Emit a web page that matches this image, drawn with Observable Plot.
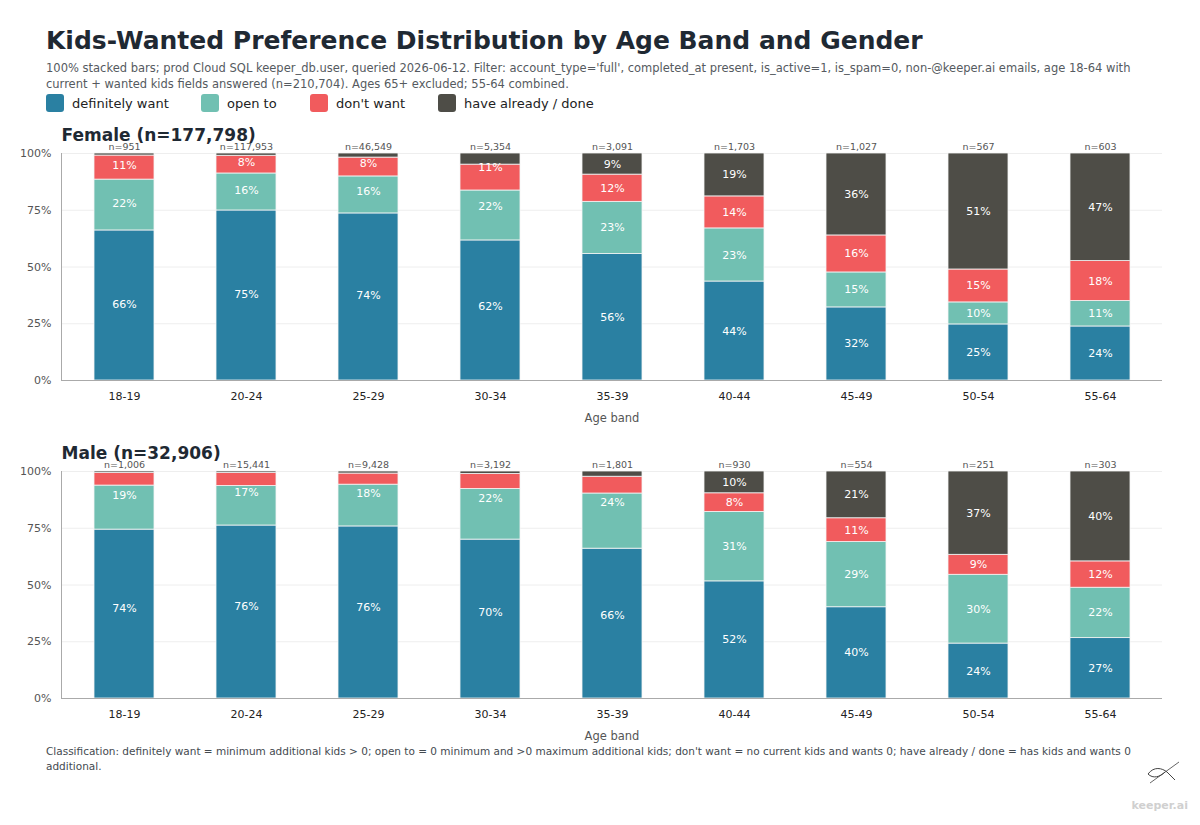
<!DOCTYPE html>
<html>
<head>
<meta charset="utf-8">
<script src="https://cdn.jsdelivr.net/npm/d3@7"></script>
<script src="https://cdn.jsdelivr.net/npm/@observablehq/plot@0.6"></script>
<style>
  html, body { margin: 0; padding: 0; background: #fff; }
  body { width: 1200px; height: 825px; position: relative; overflow: hidden; font-family: "DejaVu Sans", sans-serif; }
  #title { position: absolute; left: 46px; top: 26px; font-size: 25px; font-weight: bold; color: #1f2933; white-space: nowrap; }
  #subtitle { position: absolute; left: 46px; top: 60px; width: 1120px; font-size: 11.5px; line-height: 16px; color: #555a60; }
  #legend { position: absolute; left: 46px; top: 94px; height: 20px; font-size: 13px; color: #222; }
  .li { position: absolute; top: 0; display: flex; align-items: center; white-space: nowrap; }
  .sw { width: 18px; height: 18px; border-radius: 3px; margin-right: 8px; }
  #p1 { position: absolute; left: 0; top: 120px; }
  #p2 { position: absolute; left: 0; top: 438px; }
  #caption { position: absolute; left: 46px; top: 744px; width: 1110px; font-size: 10.5px; line-height: 15px; color: #444a50; }
  #logo { position: absolute; left: 1140px; top: 755px; }
  #brand { position: absolute; right: 12px; top: 799px; font-size: 11px; font-weight: bold; color: #d0d0d0; }
</style>
</head>
<body>
<div id="title">Kids-Wanted Preference Distribution by Age Band and Gender</div>
<div id="subtitle">100% stacked bars; prod Cloud SQL keeper_db.user, queried 2026-06-12. Filter: account_type='full', completed_at present, is_active=1, is_spam=0, non-@keeper.ai emails, age 18-64 with current + wanted kids fields answered (n=210,704). Ages 65+ excluded; 55-64 combined.</div>
<div id="legend"></div>
<div id="p1"></div>
<div id="p2"></div>
<div id="caption">Classification: definitely want = minimum additional kids &gt; 0; open to = 0 minimum and &gt;0 maximum additional kids; don't want = no current kids and wants 0; have already / done = has kids and wants 0 additional.</div>
<svg id="logo" width="50" height="40" viewBox="0 0 50 40"><path d="M10 28 L39 7" fill="none" stroke="#555" stroke-width="0.9"/><path d="M8 19 C14 11, 22 13, 27 17 L35 25 M8 19 C13 24, 20 22, 25 17" fill="none" stroke="#444" stroke-width="1"/></svg>
<div id="brand">keeper.ai</div>
<script>
const ageBands = ["18-19","20-24","25-29","30-34","35-39","40-44","45-49","50-54","55-64"];
const categories = ["definitely want","open to","don't want","have already / done"];
const colors = ["#2a80a2","#71c0b2","#f15b5d","#4e4d47"];

const femaleTitle = "Female (n=177,798)";
const femaleN = ["951","117,953","46,549","5,354","3,091","1,703","1,027","567","603"];
const femaleDefinitely = [66.1, 74.9, 73.6, 61.7, 55.7, 43.6, 32.2, 24.7, 23.8];
const femaleOpen       = [22.4, 16.3, 16.3, 22.0, 23.0, 23.4, 15.4, 9.7, 11.2];
const femaleDont       = [10.6, 7.8, 8.3, 11.4, 12.0, 14.1, 16.3, 14.5, 17.6];
const femaleDone       = [0.9, 1.0, 1.8, 4.9, 9.3, 18.9, 36.1, 51.1, 47.4];

const maleTitle = "Male (n=32,906)";
const maleN = ["1,006","15,441","9,428","3,192","1,801","930","554","251","303"];
const maleDefinitely = [74.4, 76.2, 75.8, 70.0, 66.0, 51.6, 40.2, 24.2, 26.6];
const maleOpen       = [19.4, 17.4, 18.4, 22.3, 24.3, 30.6, 28.7, 30.3, 22.2];
const maleDont       = [5.5, 5.7, 4.9, 6.6, 7.4, 8.2, 10.5, 8.8, 11.6];
const maleDone       = [0.7, 0.7, 0.9, 1.1, 2.3, 9.6, 20.6, 36.7, 39.6];

// legend
const legendX = [0, 155, 264, 392];
const legend = document.getElementById("legend");
categories.forEach((c, i) => {
  const d = document.createElement("div");
  d.className = "li";
  d.style.left = legendX[i] + "px";
  d.innerHTML = `<div class="sw" style="background:${colors[i]}"></div><span>${c}</span>`;
  legend.appendChild(d);
});

function rows(series) {
  const out = [];
  ageBands.forEach((a, j) => {
    series.forEach((s, i) => out.push({age: a, cat: categories[i], value: s[j]}));
  });
  return out;
}

function panel(title, nLabels, series) {
  const data = rows(series);
  const nData = ageBands.map((a, j) => ({age: a, label: "n=" + nLabels[j]}));
  const stackOpts = {x: "age", y: "value", z: "cat", order: categories, offset: "normalize"};
  return Plot.plot({
    width: 1200,
    height: 310,
    marginTop: 33,
    marginBottom: 50,
    marginLeft: 61,
    marginRight: 38,
    style: {fontFamily: "DejaVu Sans, sans-serif", fontSize: "11px", color: "#333"},
    x: {domain: ageBands, paddingInner: 0.51, paddingOuter: 0.255, label: "Age band"},
    y: {domain: [0, 1], label: null},
    color: {domain: categories, range: colors},
    marks: [
      Plot.gridY([0.25, 0.5, 0.75, 1], {stroke: "#eeeeee", strokeOpacity: 1}),
      Plot.barY(data, Plot.stackY({...stackOpts, fill: "cat", stroke: "#f4f4f4", strokeWidth: 0.8})),
      Plot.text(data, Plot.stackY({...stackOpts, filter: d => d.value >= 7.7, text: d => Math.round(d.value) + "%", fill: "white", fontSize: 11})),
      Plot.axisX({tickSize: 0, tickPadding: 12, fill: "#222", fontSize: 11, label: null}),
      Plot.text(["Age band"], {frameAnchor: "bottom", text: d => d, dy: 41, fill: "#555", fontSize: 11.5}),
      Plot.axisY({ticks: [0, 0.25, 0.5, 0.75, 1], tickFormat: d => Math.round(d * 100) + "%", tickSize: 0, tickPadding: 10, fill: "#555", fontSize: 11, label: null}),
      Plot.frame({anchor: "left", stroke: "#aaa"}),
      Plot.ruleY([0], {stroke: "#aaa"}),
      Plot.text(nData, {x: "age", y: () => 1, text: "label", dy: -7, fill: "#555", fontSize: 9.5}),
      Plot.text([title], {frameAnchor: "top-left", text: d => d, dy: -13, lineAnchor: "bottom", textAnchor: "start", fontSize: 17, fontWeight: "bold", fill: "#1f2933"})
    ]
  });
}

const p1 = panel(femaleTitle, femaleN, [femaleDefinitely, femaleOpen, femaleDont, femaleDone]);
const p2 = panel(maleTitle, maleN, [maleDefinitely, maleOpen, maleDont, maleDone]);
document.getElementById("p1").appendChild(p1);
document.getElementById("p2").appendChild(p2);
</script>
</body>
</html>
